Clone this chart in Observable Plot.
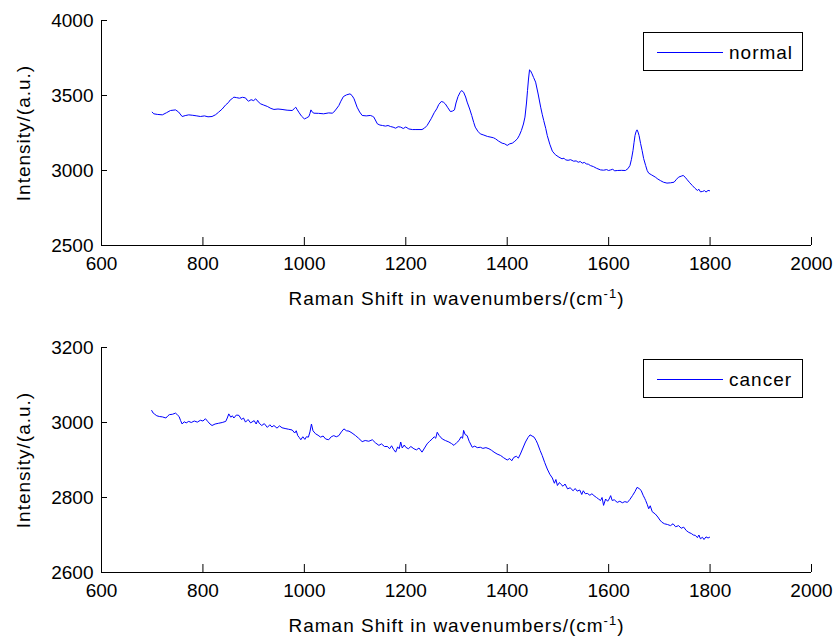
<!DOCTYPE html>
<html>
<head>
<meta charset="utf-8">
<script src="https://cdn.jsdelivr.net/npm/d3@7"></script>
<script src="https://cdn.jsdelivr.net/npm/@observablehq/plot@0.6"></script>
<style>
  html, body { margin: 0; padding: 0; background: #fff; }
  #wrap { position: relative; width: 835px; height: 638px; font-family: "Liberation Sans", Arial, Helvetica, sans-serif; }
  #wrap svg { display: block; }
  .lab text { letter-spacing: 1px; }
  .legend { position: absolute; box-sizing: border-box; border: 1px solid #000; background: #fff;
            font-size: 19px; letter-spacing: 1px; color: #000; }
  .legend .sw { position: absolute; left: 13px; width: 66px; height: 0; border-top: 1px solid #0000ff; }
  .legend .tx { position: absolute; left: 85px; line-height: 1; }
</style>
</head>
<body>
<div id="wrap"></div>
<script>
// ---- data ----
const normalX = [700,703,710,720,728,736,746,752,759,765,772,780,788,795,803,810,818,825,831,838,845,850,854,858,861,866,872,878,884,887,890,895,900,904,909,914,920,927,934,940,948,956,966,976,980,983,986,989,994,1000,1004,1009,1011,1013,1016,1019,1028,1038,1048,1055,1058,1063,1068,1072,1077,1083,1090,1094,1098,1101,1104,1109,1114,1122,1130,1134,1137,1141,1144,1149,1154,1160,1165,1170,1175,1180,1185,1190,1195,1200,1206,1213,1220,1232,1237,1242,1250,1256,1261,1265,1270,1274,1278,1283,1288,1292,1296,1299,1303,1307,1310,1314,1318,1321,1326,1330,1334,1337,1342,1347,1354,1361,1368,1373,1377,1383,1390,1395,1400,1405,1410,1415,1420,1424,1428,1432,1435,1438,1440,1442,1444,1446,1449,1452,1456,1461,1466,1469,1472,1476,1479,1484,1489,1495,1502,1508,1512,1515,1520,1525,1531,1536,1540,1544,1548,1552,1556,1560,1564,1570,1576,1584,1590,1596,1600,1604,1608,1612,1617,1625,1633,1638,1642,1645,1648,1650,1652,1654,1656,1658,1660,1663,1666,1669,1673,1676,1679,1685,1692,1697,1702,1708,1715,1722,1729,1734,1738,1743,1747,1751,1755,1760,1765,1770,1775,1778,1781,1785,1789,1792,1796,1799];
const normalY = [3389,3378,3374,3371,3385,3400,3404,3390,3360,3366,3371,3368,3364,3360,3364,3358,3360,3372,3389,3410,3438,3452,3471,3480,3489,3486,3482,3488,3484,3470,3462,3472,3466,3478,3458,3444,3436,3427,3414,3407,3410,3407,3402,3400,3412,3422,3405,3389,3364,3344,3350,3360,3380,3404,3388,3382,3381,3378,3384,3382,3389,3410,3433,3462,3493,3504,3511,3500,3478,3450,3422,3390,3367,3364,3367,3362,3356,3330,3311,3303,3300,3296,3300,3293,3289,3282,3292,3289,3280,3290,3277,3273,3273,3273,3283,3300,3345,3385,3411,3440,3460,3456,3444,3418,3393,3396,3404,3450,3493,3520,3533,3522,3490,3456,3410,3367,3320,3289,3262,3244,3236,3227,3222,3218,3211,3196,3182,3178,3167,3178,3182,3195,3211,3235,3267,3310,3356,3450,3533,3610,3671,3665,3644,3620,3589,3510,3422,3375,3333,3280,3233,3175,3129,3105,3089,3078,3082,3071,3068,3072,3062,3064,3055,3060,3049,3054,3044,3042,3033,3026,3015,3004,3002,3006,3000,3004,3008,2998,3000,3001,3000,3012,3033,3075,3133,3185,3233,3258,3271,3256,3233,3180,3133,3080,3033,3000,2982,2970,2956,2943,2933,2922,2916,2918,2922,2942,2956,2962,2967,2955,2938,2918,2900,2882,2867,2875,2858,2860,2866,2856,2867,2865];

const cancerX = [699,702,705,709,714,720,727,731,734,740,746,750,753,756,759,763,767,772,777,783,789,795,800,805,810,814,818,824,831,838,845,848,851,855,858,861,866,871,876,880,884,889,894,901,905,908,911,916,921,927,932,936,940,946,951,956,962,969,976,981,984,987,990,993,997,1001,1004,1008,1011,1014,1017,1022,1027,1032,1037,1042,1048,1053,1058,1063,1068,1073,1078,1083,1088,1094,1101,1107,1114,1120,1127,1134,1140,1147,1152,1158,1164,1168,1172,1176,1180,1184,1187,1190,1193,1197,1200,1205,1210,1216,1221,1226,1232,1237,1242,1247,1252,1256,1259,1262,1266,1272,1278,1285,1290,1295,1300,1305,1309,1312,1314,1317,1321,1325,1331,1336,1341,1347,1352,1358,1364,1369,1374,1380,1387,1393,1400,1405,1409,1413,1418,1422,1426,1431,1436,1441,1445,1449,1453,1457,1460,1465,1469,1474,1479,1484,1489,1493,1496,1499,1503,1506,1510,1514,1519,1524,1530,1534,1538,1543,1547,1550,1554,1558,1563,1567,1571,1576,1580,1584,1587,1590,1594,1598,1601,1604,1607,1611,1617,1622,1627,1632,1637,1642,1647,1652,1656,1660,1664,1668,1671,1673,1676,1679,1682,1686,1692,1697,1701,1705,1710,1716,1722,1727,1732,1738,1743,1748,1753,1758,1763,1767,1771,1775,1778,1781,1785,1788,1792,1796,1799];
const cancerY = [3032,3025,3022,3018,3016,3015,3012,3018,3021,3022,3025,3020,3016,3005,2996,3002,2999,3003,3000,3004,3001,3006,3004,3010,3002,2996,2992,2996,2998,3000,3003,3012,3023,3014,3018,3012,3020,3019,3008,3012,3001,3008,2999,3005,2996,3006,2998,2992,2997,2987,2994,2988,2992,2985,2991,2986,2984,2982,2980,2972,2978,2965,2960,2954,2962,2955,2962,2961,2975,2996,2978,2970,2966,2961,2964,2956,2954,2962,2965,2962,2965,2975,2983,2978,2977,2972,2965,2958,2949,2952,2950,2954,2946,2939,2943,2936,2936,2930,2938,2928,2921,2935,2930,2948,2932,2940,2934,2930,2936,2930,2927,2932,2921,2932,2943,2950,2956,2962,2958,2974,2965,2956,2952,2948,2944,2939,2946,2952,2962,2958,2979,2968,2965,2950,2934,2937,2933,2934,2931,2933,2930,2926,2921,2916,2912,2906,2900,2904,2898,2907,2910,2905,2916,2932,2948,2960,2967,2964,2961,2952,2943,2925,2912,2893,2876,2862,2852,2838,2848,2832,2840,2835,2830,2836,2823,2826,2818,2824,2817,2820,2808,2818,2810,2811,2806,2810,2805,2800,2796,2792,2800,2779,2796,2790,2796,2805,2792,2794,2787,2790,2786,2789,2787,2795,2805,2816,2827,2824,2819,2806,2798,2792,2782,2770,2778,2762,2756,2748,2740,2734,2730,2728,2725,2730,2722,2725,2718,2721,2712,2707,2704,2700,2699,2693,2700,2690,2694,2688,2695,2692,2694];

const xTicks = [600, 800, 1000, 1200, 1400, 1600, 1800, 2000];
const yTicksTop = [2500, 3000, 3500, 4000];
const yTicksBottom = [2600, 2800, 3000, 3200];
const xDomain = [600, 2000];
const yDomainTop = [2500, 4000];
const yDomainBottom = [2600, 3200];
const seriesNames = ["normal", "cancer"];
const xLabel = "Raman Shift in wavenumbers/(cm";
const xLabelSup = "-1";
const yLabel = "Intensity/(a.u.)";

function panel(xs, ys, yDomain, yTicks, marginTop, marginBottom) {
  const data = xs.map((x, i) => ({x, y: ys[i]}));
  const W = 835, H = 319, ML = 101, MR = 24;
  const fw = W - ML - MR, fh = H - marginTop - marginBottom;
  const svg = Plot.plot({
    width: W, height: H,
    marginLeft: ML, marginRight: MR, marginTop, marginBottom,
    style: {fontFamily: '"Liberation Sans", Arial, Helvetica, sans-serif', fontSize: "19px", color: "#000", background: "#fff", overflow: "visible"},
    x: {domain: xDomain},
    y: {domain: yDomain},
    marks: [
      Plot.ruleY([yDomain[0]], {stroke: "#000", strokeWidth: 1}),
      Plot.ruleX([xDomain[0]], {stroke: "#000", strokeWidth: 1}),
      Plot.tickX(xTicks, {x: d => d, stroke: "#000", insetTop: fh - 8}),
      Plot.tickY(yTicks, {y: d => d, stroke: "#000", insetRight: fw - 6}),
      Plot.axisX({ticks: xTicks, tickSize: 0, tickPadding: 11, tickFormat: d => String(d),
                  label: xLabel + xLabelSup + ")", labelAnchor: "center", labelOffset: 59, labelArrow: "none"}),
      Plot.axisY({ticks: yTicks, tickSize: 0, tickPadding: 8, tickFormat: d => String(d),
                  label: yLabel, labelAnchor: "center", labelOffset: 85, labelArrow: "none"}),
      Plot.line(data, {x: "x", y: "y", stroke: "#0000ff", strokeWidth: 1})
    ]
  });
  // superscript in the x-axis label
  d3.select(svg).selectAll('g[aria-label="x-axis label"] text').each(function () {
    const t = d3.select(this);
    t.text(xLabel);
    t.append("tspan").attr("dy", -7).attr("font-size", "13px").text(xLabelSup);
    t.append("tspan").attr("dy", 7).text(")");
  });
  d3.select(svg).selectAll('g[aria-label="x-axis label"], g[aria-label="y-axis label"]').classed("lab", true);
  return svg;
}

const wrap = document.getElementById("wrap");
wrap.appendChild(panel(normalX, normalY, yDomainTop, yTicksTop, 20, 74));
wrap.appendChild(panel(cancerX, cancerY, yDomainBottom, yTicksBottom, 28, 66));

function legend(name, top, h) {
  const div = document.createElement("div");
  div.className = "legend";
  div.style.left = "643px"; div.style.top = top + "px";
  div.style.width = "160px"; div.style.height = h + "px";
  const sw = document.createElement("div"); sw.className = "sw"; sw.style.top = Math.round(h / 2) - 1 + "px";
  const tx = document.createElement("div"); tx.className = "tx"; tx.style.top = (h / 2 - 10) + "px"; tx.textContent = name;
  div.appendChild(sw); div.appendChild(tx);
  wrap.appendChild(div);
}
legend(seriesNames[0], 32, 39);
legend(seriesNames[1], 359, 39);
</script>
</body>
</html>
